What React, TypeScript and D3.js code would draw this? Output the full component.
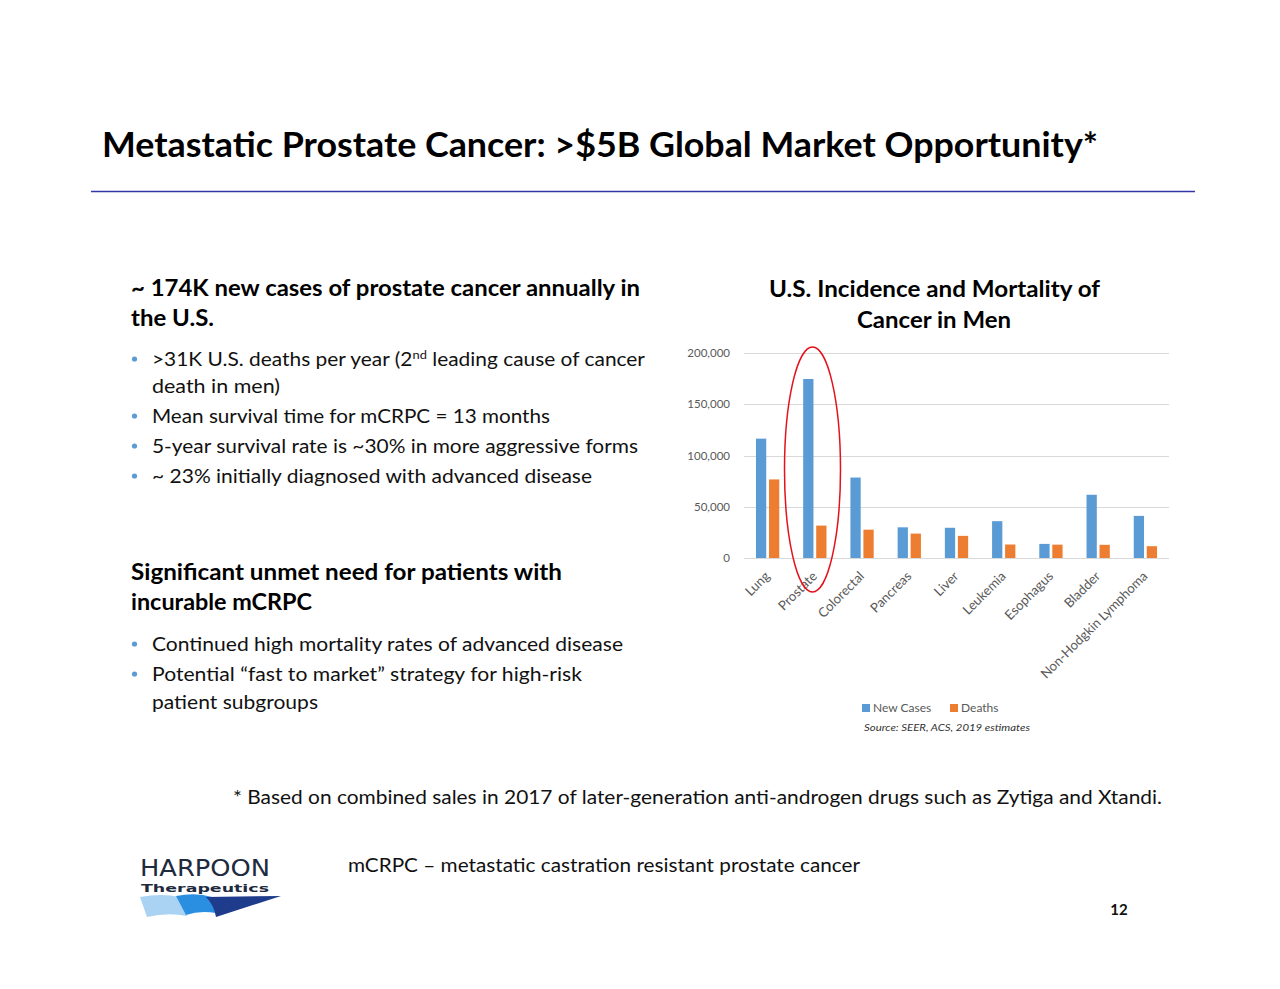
import React, { useEffect, useRef } from "react";
import * as d3 from "d3";

const categories = ["Lung", "Prostate", "Colorectal", "Pancreas", "Liver", "Leukemia", "Esophagus", "Bladder", "Non-Hodgkin Lymphoma"];
const newCases = [116440, 174650, 78500, 29940, 29480, 35920, 13750, 61700, 41090];
const deaths = [76650, 31620, 27640, 23800, 21600, 13150, 13020, 12870, 11510];
const seriesNames = ["New Cases", "Deaths"];
const seriesColors = ["#5b9bd5", "#ed7d31"];
const yTicks = [0, 50000, 100000, 150000, 200000];

const FONT = "Lato, 'Open Sans', sans-serif";

export default function App() {
  const ref = useRef<SVGSVGElement>(null);

  useEffect(() => {
    const svg = d3.select(ref.current);
    svg.selectAll("*").remove();

    const addText = (
      x: number, y: number, txt: string, size: number, opts: any = {}
    ) => {
      const t = svg.append("text")
        .attr("x", x).attr("y", y)
        .attr("font-family", opts.family || FONT)
        .attr("font-size", size)
        .attr("font-weight", opts.weight || "normal")
        .attr("font-style", opts.style || "normal")
        .attr("fill", opts.fill || "#111")
        .attr("text-anchor", opts.anchor || "start")
        .text(txt);
      if (opts.len) t.attr("textLength", opts.len).attr("lengthAdjust", "spacingAndGlyphs");
      if (opts.ls) t.attr("letter-spacing", opts.ls);
      return t;
    };

    // Title
    addText(102, 157, "Metastatic Prostate Cancer: >$5B Global Market Opportunity*", 35, { weight: "bold", len: 996, fill: "#000" });
    svg.append("line").attr("x1", 91).attr("x2", 1195).attr("y1", 191.5).attr("y2", 191.5)
      .attr("stroke", "#3236a8").attr("stroke-width", 1.3);

    // Left text block
    addText(131, 296, "~ 174K new cases of prostate cancer annually in", 22, { weight: "bold", len: 509, fill: "#000" });
    addText(131, 326, "the U.S.", 22, { weight: "bold", len: 83, fill: "#000" });

    const bullet = (y: number) => {
      svg.append("circle").attr("cx", 134.5).attr("cy", y - 7).attr("r", 2.6).attr("fill", "#5b9bd5");
    };
    bullet(366);
    const b1 = svg.append("text").attr("x", 152).attr("y", 366)
      .attr("font-family", FONT).attr("font-size", 19.5).attr("fill", "#111")
      .attr("textLength", 493).attr("lengthAdjust", "spacingAndGlyphs");
    b1.append("tspan").text(">31K U.S. deaths per year (2");
    b1.append("tspan").attr("dy", -7).attr("font-size", 12).text("nd");
    b1.append("tspan").attr("dy", 7).text(" leading cause of cancer");
    addText(152, 393, "death in men)", 19.5, { len: 128 });
    bullet(423);
    addText(152, 423, "Mean survival time for mCRPC = 13 months", 19.5, { len: 398 });
    bullet(453);
    addText(152, 453, "5-year survival rate is ~30% in more aggressive forms", 19.5, { len: 486 });
    bullet(483);
    addText(152, 483, "~ 23% initially diagnosed with advanced disease", 19.5, { len: 440 });

    addText(131, 580, "Significant unmet need for patients with", 22, { weight: "bold", len: 431, fill: "#000" });
    addText(131, 610, "incurable mCRPC", 22, { weight: "bold", len: 181, fill: "#000" });
    bullet(651);
    addText(152, 651, "Continued high mortality rates of advanced disease", 19.5, { len: 471 });
    bullet(681);
    addText(152, 681, "Potential \u201cfast to market\u201d strategy for high-risk", 19.5, { len: 430 });
    addText(152, 709, "patient subgroups", 19.5, { len: 166 });

    // Chart title
    addText(934.5, 297, "U.S. Incidence and Mortality of", 22, { weight: "bold", anchor: "middle", len: 331, fill: "#000" });
    addText(934, 328, "Cancer in Men", 22, { weight: "bold", anchor: "middle", len: 154, fill: "#000" });

    // Chart
    const x0 = d3.scaleBand<string>().domain(categories).range([744, 1169]).paddingInner(0).paddingOuter(0);
    const x1 = d3.scaleBand<string>().domain(seriesNames).range([0, x0.bandwidth()]).paddingInner(0.21).paddingOuter(0.92);
    const y = d3.scaleLinear().domain([0, 200000]).range([558, 353]);

    const g = svg.append("g");
    g.selectAll("line.grid").data(yTicks).enter().append("line")
      .attr("x1", 744).attr("x2", 1169)
      .attr("y1", (d) => Math.round(y(d)) + 0.5).attr("y2", (d) => Math.round(y(d)) + 0.5)
      .attr("stroke", "#d9d9d9").attr("stroke-width", 1);
    g.selectAll("text.tick").data(yTicks).enter().append("text")
      .attr("x", 730).attr("y", (d) => y(d) + 4)
      .attr("text-anchor", "end").attr("font-family", FONT).attr("font-size", 11.5)
      .attr("fill", "#595959").text((d) => d3.format(",")(d));

    const seriesData = [newCases, deaths];
    seriesData.forEach((vals, si) => {
      g.selectAll(`rect.s${si}`).data(vals).enter().append("rect")
        .attr("x", (_d, i) => (x0(categories[i]) as number) + (x1(seriesNames[si]) as number))
        .attr("width", x1.bandwidth())
        .attr("y", (d) => y(d))
        .attr("height", (d) => y(0) - y(d))
        .attr("fill", seriesColors[si]);
    });

    // category labels
    categories.forEach((c) => {
      const cx = (x0(c) as number) + x0.bandwidth() / 2 + 3;
      const cy = 577;
      g.append("text")
        .attr("transform", `translate(${cx},${cy}) rotate(-45)`)
        .attr("text-anchor", "end").attr("font-family", FONT).attr("font-size", 13.2)
        .attr("fill", "#595959").text(c);
    });

    // Red ellipse highlight
    svg.append("ellipse").attr("cx", 812.5).attr("cy", 469.5).attr("rx", 28).attr("ry", 122.5)
      .attr("fill", "none").attr("stroke", "#e3121b").attr("stroke-width", 1.5);

    // Legend
    seriesNames.forEach((s, i) => {
      const lx = i === 0 ? 862 : 950;
      svg.append("rect").attr("x", lx).attr("y", 704).attr("width", 8).attr("height", 8).attr("fill", seriesColors[i]);
      addText(lx + 11, 712, s, 12, { fill: "#595959" });
    });
    addText(864, 731, "Source: SEER, ACS, 2019 estimates", 10, { style: "italic", fill: "#333", len: 166 });

    // Footnotes
    addText(233, 804, "* Based on combined sales in 2017 of later-generation anti-androgen drugs such as Zytiga and Xtandi.", 19.5, { len: 929 });
    addText(348, 872, "mCRPC \u2013 metastatic castration resistant prostate cancer", 19.5, { len: 512 });
    addText(1119, 915, "12", 15, { weight: "bold", anchor: "middle" });

    // Logo
    addText(140, 876, "HARPOON", 23, { family: "'DejaVu Sans', sans-serif", weight: "500", fill: "#1e2a3e", len: 130 });
    addText(141, 892, "Therapeutics", 10.5, { family: "'DejaVu Sans', sans-serif", weight: "bold", fill: "#1e2a3e", len: 128 });
    svg.append("path").attr("d", "M140,897 Q162,893 180,897 L187,916 Q168,912 147,917 Z").attr("fill", "#a9d2f3");
    svg.append("path").attr("d", "M176,896 Q196,892 212,897 L216,913 Q200,910 186,915 Z").attr("fill", "#2a8fe0");
    svg.append("path").attr("d", "M206,897 L281,896 L216,917 Q214,905 206,897 Z").attr("fill", "#1f3b8c");
  }, []);

  return (
    <svg ref={ref} width={1280} height={989}
      style={{ position: "absolute", left: 0, top: 0, background: "#fff", display: "block" }} />
  );
}
